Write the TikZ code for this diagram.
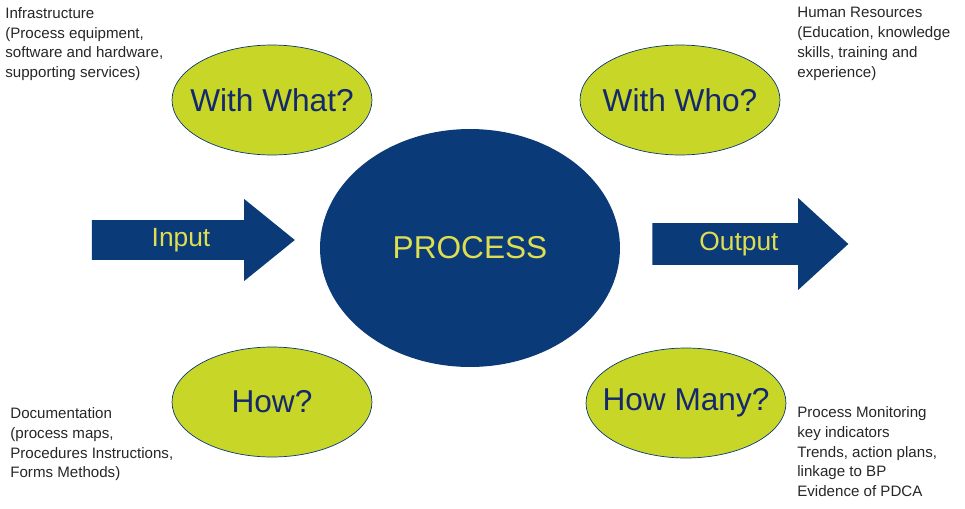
\documentclass[tikz,border=0pt]{standalone}
\usepackage{fontspec}
\setmainfont{Liberation Sans}
\usetikzlibrary{shapes.arrows, shapes.geometric}
\definecolor{procblue}{RGB}{10,58,120}
\definecolor{leaf}{RGB}{200,214,40}
\definecolor{navy}{RGB}{20,40,110}
\definecolor{gold}{RGB}{222,222,80}
\tikzset{
  bubble/.style={ellipse, draw=procblue, fill=leaf, minimum width=4cm, minimum height=2.2cm,
    inner xsep=-1.2cm, inner ysep=0pt, text=navy, font=\fontsize{18}{20}\selectfont},
  flow/.style={single arrow, fill=procblue, single arrow head indent=0pt, text=gold,
    font=\fontsize{15}{18}\selectfont},
  note/.style={align=left, font=\fontsize{8.6}{11.3}\selectfont, text=black!85, inner sep=0pt}
}
\begin{document}
\begin{tikzpicture}[x=0.02cm, y=-0.02cm]
    \useasboundingbox (0,0) rectangle (965,508);

    % centre
    \node[ellipse, fill=procblue, minimum width=6cm, minimum height=4.76cm, text=gold,
      font=\fontsize{18}{20}\selectfont] (process) at (470,248) {PROCESS};

    % four questions
    \node[bubble] (what) at (272,100) {With What?};
    \node[bubble] (who) at (680,100) {With Who?};
    \node[bubble] (how) at (272,402) {How?};
    \node[bubble] (many) at (686,403) {How Many?};

    % arrows
    \node[flow, minimum height=4.06cm, minimum width=1.64cm, single arrow tip angle=78,
      single arrow head extend=0.38cm] (input) at (181,240) {Input};
    \node[flow, minimum height=3.92cm, minimum width=1.84cm, single arrow tip angle=85,
      single arrow head extend=0.44cm] (output) at (739,244) {Output};

    % notes
    \node[note, anchor=north west] (infra) at (5,7) {Infrastructure\\(Process equipment,\\software and hardware,\\supporting services)};
    \node[note, anchor=north west] (people) at (797,7) {Human Resources\\(Education, knowledge\\skills, training and\\experience)};
    \node[note, anchor=north west] (docs) at (10,407) {Documentation\\(process maps,\\Procedures Instructions,\\Forms Methods)};
    \node[note, anchor=north west] (monitor) at (797,406) {Process Monitoring\\key indicators\\Trends, action plans,\\linkage to BP\\Evidence of PDCA};
\end{tikzpicture}
\end{document}
